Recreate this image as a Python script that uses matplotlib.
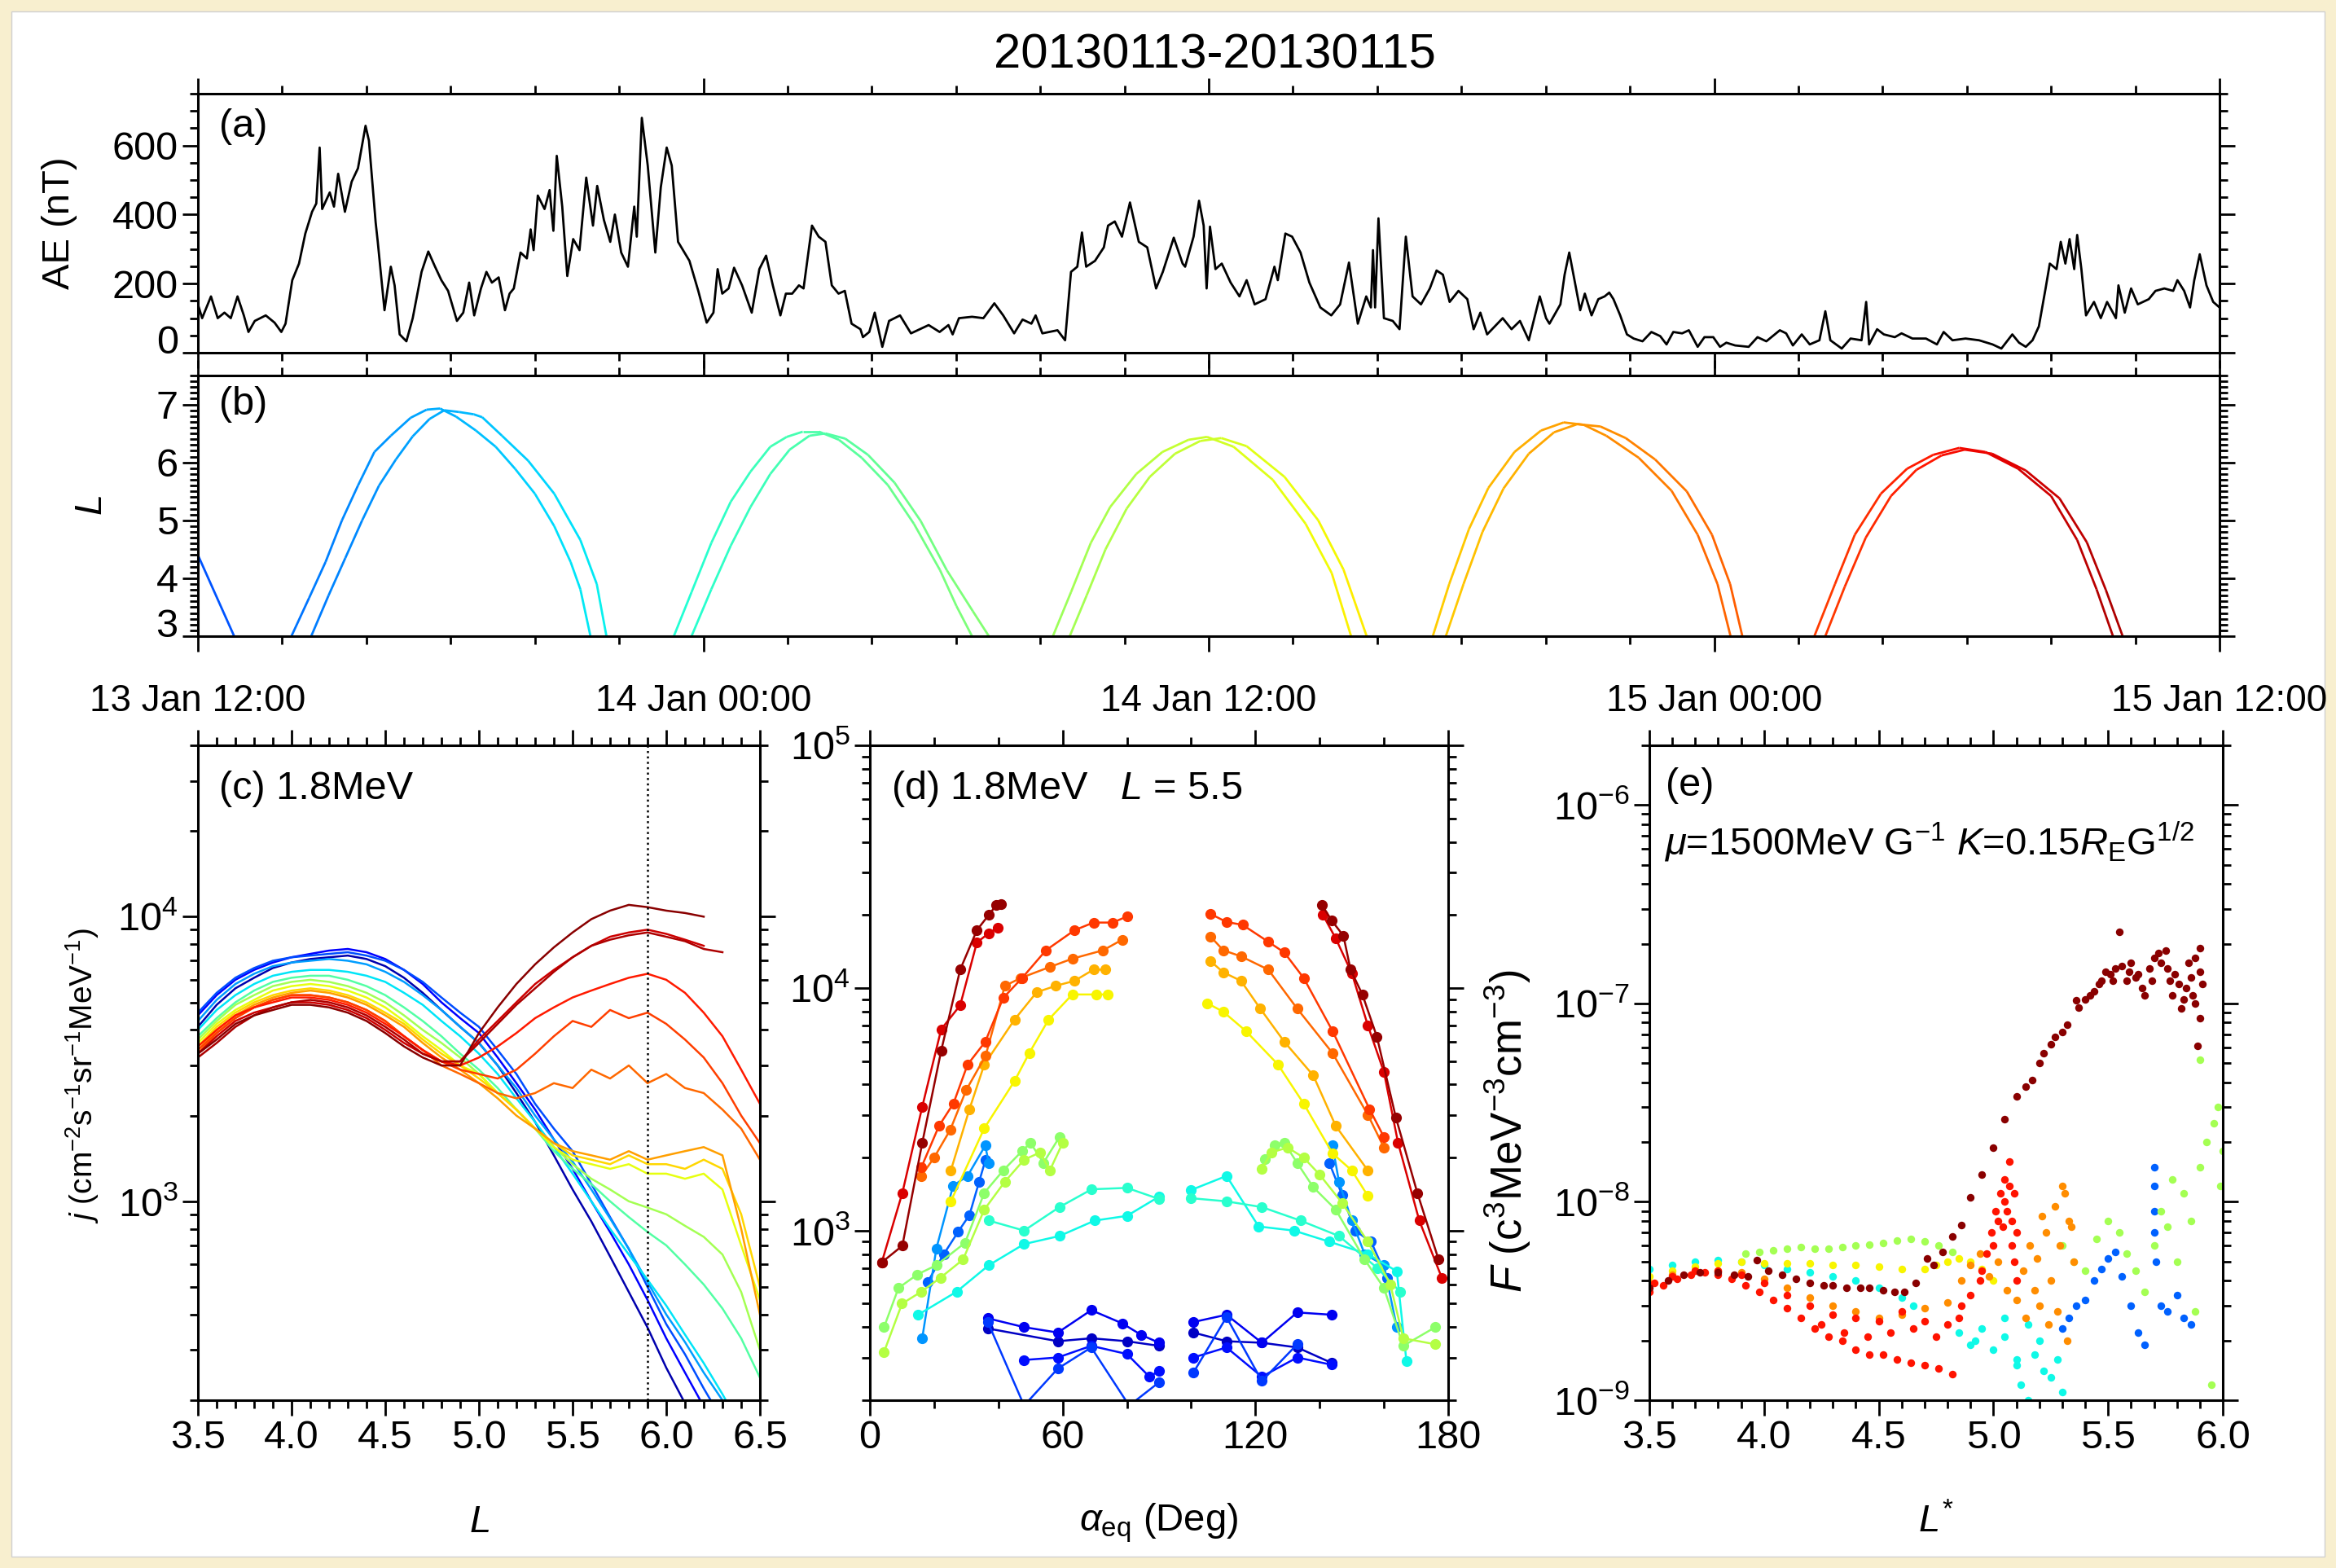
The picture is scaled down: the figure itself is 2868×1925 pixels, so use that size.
import numpy as np
import matplotlib
matplotlib.use("Agg")
from matplotlib import pyplot as plt
from matplotlib import ticker
from matplotlib.collections import LineCollection
from matplotlib.colors import Normalize
from matplotlib.patches import Rectangle
import matplotlib.transforms as mtransforms

plt.rcParams['font.family'] = ['Liberation Sans', 'DejaVu Sans']
plt.rcParams['mathtext.fontset'] = 'custom'
plt.rcParams['mathtext.rm'] = 'Liberation Sans'
plt.rcParams['mathtext.it'] = 'Liberation Sans:italic'
plt.rcParams['mathtext.bf'] = 'Liberation Sans:bold'

# ---------------- data ----------------
title = "20130113-20130115"
time_tick_hours = [0, 12, 24, 36, 48]
time_tick_labels = ["13 Jan 12:00", "14 Jan 00:00", "14 Jan 12:00", "15 Jan 00:00", "15 Jan 12:00"]

# (a) AE index, hours after 13 Jan 12:00
ae_hours = [0.0, 0.1, 0.31, 0.47, 0.63, 0.78, 0.94, 1.09, 1.2, 1.35, 1.61, 1.82, 1.98, 2.08, 2.24, 2.4, 2.55, 2.71, 2.81, 2.89,
            2.95, 3.13, 3.23, 3.33, 3.49, 3.65, 3.8, 3.98, 4.06, 4.22, 4.27, 4.43, 4.58, 4.67, 4.79, 4.95, 5.1, 5.31, 5.47, 5.63,
            5.78, 5.94, 6.15, 6.3, 6.44, 6.56, 6.72, 6.85, 6.98, 7.14, 7.29, 7.4, 7.5, 7.66, 7.81, 7.9, 7.97, 8.07, 8.23, 8.35,
            8.44, 8.52, 8.65, 8.77, 8.91, 9.06, 9.22, 9.38, 9.48, 9.64, 9.79, 9.9, 10.05, 10.21, 10.36, 10.42, 10.54, 10.68, 10.86, 10.99,
            11.13, 11.25, 11.4, 11.67, 11.88, 12.08, 12.24, 12.34, 12.45, 12.6, 12.73, 12.92, 13.15, 13.33, 13.49, 13.65, 13.83, 13.96, 14.11, 14.27,
            14.38, 14.58, 14.74, 14.9, 15.05, 15.21, 15.36, 15.52, 15.73, 15.79, 15.94, 16.07, 16.25, 16.41, 16.67, 16.93, 17.35, 17.61, 17.82, 17.92,
            18.07, 18.38, 18.65, 18.91, 19.12, 19.38, 19.58, 19.79, 19.89, 20.05, 20.41, 20.59, 20.73, 20.88, 20.99, 21.09, 21.3, 21.51, 21.61, 21.77,
            21.94, 22.13, 22.34, 22.54, 22.75, 22.91, 23.17, 23.38, 23.44, 23.64, 23.77, 23.88, 23.95, 24.03, 24.16, 24.31, 24.52, 24.73, 24.9, 25.09,
            25.35, 25.56, 25.64, 25.82, 25.98, 26.18, 26.39, 26.65, 26.91, 27.12, 27.33, 27.54, 27.74, 27.85, 27.9, 27.95, 28.03, 28.16, 28.37, 28.53,
            28.68, 28.84, 29.04, 29.25, 29.41, 29.56, 29.72, 29.93, 30.14, 30.29, 30.45, 30.61, 30.98, 31.19, 31.39, 31.6, 31.86, 32.01, 32.09, 32.35,
            32.45, 32.56, 32.66, 32.82, 32.93, 33.09, 33.25, 33.4, 33.51, 33.61, 33.77, 33.93, 34.09, 34.3, 34.51, 34.72, 34.87, 35.03, 35.24, 35.4,
            35.61, 35.77, 35.98, 36.14, 36.29, 36.5, 36.82, 37.03, 37.24, 37.56, 37.71, 37.87, 38.08, 38.27, 38.5, 38.64, 38.76, 39.03, 39.24, 39.5,
            39.61, 39.68, 39.87, 40.03, 40.29, 40.45, 40.71, 41.03, 41.29, 41.45, 41.66, 41.97, 42.29, 42.61, 42.82, 43.08, 43.24, 43.4, 43.56, 43.71,
            43.87, 43.97, 44.13, 44.23, 44.34, 44.44, 44.55, 44.62, 44.72, 44.83, 45.02, 45.18, 45.33, 45.54, 45.6, 45.75, 45.9, 46.06, 46.32, 46.48,
            46.69, 46.9, 47.0, 47.16, 47.3, 47.4, 47.53, 47.69, 47.85, 48.0]
ae_values = [140, 100, 163, 100, 116, 100, 163, 108, 60, 92, 108, 87, 60, 84, 210, 258, 345, 408, 432, 594,
             416, 464, 423, 518, 408, 495, 534, 657, 614, 377, 321, 123, 249, 195, 53, 33, 100, 234, 293, 249,
             210, 179, 92, 116, 203, 108, 186, 234, 203, 218, 123, 171, 186, 290, 273, 357, 297, 455, 416, 471,
             353, 570, 423, 222, 329, 297, 507, 368, 483, 384, 321, 400, 290, 249, 423, 336, 680, 542, 290, 479,
             594, 542, 321, 266, 179, 87, 116, 242, 171, 186, 246, 195, 116, 242, 281, 195, 108, 171, 171, 195,
             186, 368, 336, 321, 195, 171, 179, 84, 68, 45, 60, 116, 17, 92, 108, 56, 80, 60, 80, 53,
             100, 104, 100, 143, 108, 56, 96, 84, 108, 56, 65, 36, 234, 249, 348, 249, 266, 305, 368, 380,
             336, 435, 321, 305, 186, 234, 333, 258, 249, 336, 440, 368, 186, 365, 242, 258, 203, 163, 210, 140,
             155, 249, 210, 345, 336, 290, 203, 131, 108, 140, 261, 84, 163, 131, 297, 131, 389, 100, 92, 68,
             336, 163, 140, 186, 238, 226, 147, 179, 155, 68, 116, 53, 100, 68, 92, 36, 163, 100, 84, 140,
             226, 290, 226, 123, 171, 108, 155, 163, 174, 155, 108, 53, 41, 33, 60, 48, 24, 60, 56, 65,
             17, 45, 45, 17, 29, 21, 17, 45, 33, 65, 56, 21, 53, 24, 36, 120, 36, 12, 41, 36,
             147, 24, 68, 53, 45, 56, 41, 41, 24, 60, 36, 41, 36, 24, 12, 53, 29, 17, 36, 76,
             186, 258, 242, 321, 258, 329, 242, 341, 242, 108, 147, 100, 147, 100, 195, 116, 186, 140, 155, 179,
             186, 179, 210, 179, 131, 210, 285, 195, 147, 131]

# (b) L shell of the two probes, passes (hours, L)
orbit0_t = [0.0, 0.86]
orbit0_L = [4.4, 3.0]
orbit1a_t = [2.22, 2.64, 3.03, 3.42, 3.8, 4.19, 4.58, 5.05, 5.43, 5.75, 6.13, 6.6, 7.07, 7.53, 8.0, 8.46, 8.85, 9.08, 9.32]
orbit1a_L = [3.0, 3.66, 4.28, 5.0, 5.6, 6.18, 6.46, 6.77, 6.91, 6.93, 6.79, 6.55, 6.27, 5.89, 5.46, 4.9, 4.28, 3.81, 3.0]
orbit1b_t = [2.69, 3.1, 3.5, 3.9, 4.3, 4.7, 5.1, 5.5, 5.85, 6.2, 6.55, 6.75, 7.22, 7.84, 8.46, 9.08, 9.47, 9.7]
orbit1b_L = [3.0, 3.7, 4.35, 5.0, 5.6, 6.05, 6.45, 6.75, 6.9, 6.87, 6.83, 6.78, 6.46, 6.03, 5.46, 4.66, 3.9, 3.0]
orbit2a_t = [11.3, 11.72, 12.19, 12.65, 13.12, 13.59, 13.98, 14.36, 14.75, 15.22, 15.76, 16.38, 17.0, 17.62, 18.01, 18.38]
orbit2a_L = [3.0, 3.76, 4.61, 5.32, 5.84, 6.27, 6.44, 6.53, 6.53, 6.39, 6.08, 5.61, 4.94, 4.14, 3.52, 3.0]
orbit2b_t = [11.72, 12.19, 12.65, 13.12, 13.59, 14.05, 14.52, 14.9, 15.37, 15.91, 16.54, 17.16, 17.78, 18.4, 18.78]
orbit2b_L = [3.0, 3.81, 4.56, 5.23, 5.8, 6.22, 6.46, 6.5, 6.41, 6.13, 5.65, 4.99, 4.14, 3.43, 3.0]
orbit3a_t = [20.3, 20.73, 21.2, 21.66, 22.28, 22.9, 23.52, 23.96, 24.59, 25.52, 26.3, 26.92, 27.38]
orbit3a_L = [3.0, 3.76, 4.61, 5.23, 5.8, 6.18, 6.39, 6.44, 6.27, 5.7, 4.94, 4.09, 3.0]
orbit3b_t = [20.7, 21.1, 21.55, 22.05, 22.6, 23.2, 23.8, 24.3, 24.9, 25.8, 26.6, 27.2, 27.75]
orbit3b_L = [3.0, 3.7, 4.5, 5.2, 5.75, 6.15, 6.37, 6.42, 6.28, 5.75, 5.0, 4.15, 3.0]
orbit4a_t = [29.32, 29.71, 30.18, 30.64, 31.26, 31.89, 32.43, 32.9, 33.44, 34.21, 34.99, 35.61, 36.08, 36.39]
orbit4a_L = [3.0, 3.9, 4.85, 5.56, 6.18, 6.55, 6.69, 6.65, 6.46, 6.08, 5.51, 4.75, 3.9, 3.0]
orbit4b_t = [29.63, 30.05, 30.5, 31.0, 31.6, 32.2, 32.75, 33.3, 33.9, 34.6, 35.35, 35.95, 36.38, 36.67]
orbit4b_L = [3.0, 3.9, 4.8, 5.55, 6.15, 6.52, 6.66, 6.62, 6.42, 6.05, 5.5, 4.75, 3.9, 3.0]
orbit5a_t = [38.38, 38.87, 39.34, 39.96, 40.58, 41.2, 41.82, 42.44, 43.22, 44.0, 44.62, 45.08, 45.47]
orbit5a_L = [3.0, 3.9, 4.75, 5.46, 5.89, 6.13, 6.25, 6.18, 5.89, 5.42, 4.66, 3.81, 3.0]
orbit5b_t = [38.64, 39.1, 39.6, 40.2, 40.8, 41.4, 41.95, 42.6, 43.4, 44.2, 44.85, 45.3, 45.7]
orbit5b_L = [3.0, 3.85, 4.7, 5.42, 5.87, 6.12, 6.22, 6.15, 5.86, 5.38, 4.62, 3.8, 3.0]

# (c) 1.8 MeV flux profiles j(L)
c_L = [3.5, 3.6, 3.7, 3.8, 3.9, 4.0, 4.1, 4.2, 4.3, 4.4, 4.5, 4.6, 4.7, 4.8, 4.9, 5.0,
       5.1, 5.2, 5.3, 5.4, 5.5, 5.6, 5.7, 5.8, 5.9, 6.0, 6.1, 6.2, 6.3, 6.4, 6.5]
nan = np.nan
c_b1 = [4100, 4900, 5600, 6100, 6600, 6900, 7100, 7200, 7300, 7100, 6700, 6100, 5400, 4700, 4100, 3600, 3000, 2400, 1900, 1450, 1100, 850, 640, 480, 360, 260, 195, 150, nan, nan, nan]
c_b2 = [4500, 5300, 6000, 6500, 6900, 7200, 7400, 7600, 7700, 7500, 7100, 6500, 5800, 5000, 4400, 3900, 3200, 2600, 2100, 1650, 1300, 1000, 780, 600, 450, 330, 250, 190, 150, nan, nan]
c_b3 = [4600, 5400, 6100, 6600, 7000, 7200, 7300, 7400, 7500, 7300, 7000, 6500, 5900, 5200, 4600, 4100, 3400, 2800, 2200, 1800, 1500, 1150, 880, 680, 500, 370, 290, 220, 170, nan, nan]
c_b4 = [4300, 5100, 5800, 6300, 6700, 6900, 7000, 7100, 7000, 6800, 6400, 5900, 5300, 4700, 4100, 3600, 3000, 2500, 2000, 1650, 1380, 1100, 870, 680, 520, 400, 320, 250, 200, 160, nan]
c_b5 = [4000, 4700, 5300, 5800, 6200, 6400, 6500, 6500, 6400, 6200, 5900, 5400, 4900, 4300, 3800, 3300, 2800, 2300, 1900, 1550, 1250, 1000, 800, 650, 530, 430, 340, 270, 210, 160, nan]
c_g1 = [3800, 4400, 5000, 5500, 5900, 6100, 6200, 6200, 6000, 5700, 5300, 4800, 4300, 3800, 3300, 2900, 2500, 2100, 1800, 1500, 1300, 1150, 1000, 880, 780, 700, 600, 510, 420, 330, 240]
c_g2 = [3700, 4300, 4900, 5300, 5700, 5900, 6000, 5900, 5700, 5400, 5000, 4500, 4000, 3600, 3200, 2800, 2400, 2100, 1800, 1550, 1350, 1200, 1100, 1000, 950, 900, 820, 750, 650, 480, 300]
c_y1 = [3600, 4200, 4700, 5100, 5500, 5700, 5800, 5700, 5500, 5200, 4800, 4300, 3800, 3400, 3000, 2800, 2400, 2100, 1800, 1550, 1400, 1350, 1300, 1350, 1250, 1250, 1200, 1250, 1100, 700, 450]
c_y2 = [3500, 4100, 4600, 5000, 5300, 5500, 5600, 5500, 5300, 5000, 4600, 4200, 3700, 3300, 3000, 2700, 2400, 2100, 1800, 1600, 1450, 1400, 1350, 1450, 1350, 1350, 1300, 1400, 1300, 900, 500]
c_o1 = [3400, 4000, 4500, 4900, 5200, 5400, 5500, 5400, 5200, 4900, 4500, 4100, 3600, 3200, 2900, 2600, 2300, 2000, 1800, 1600, 1500, 1450, 1400, 1500, 1400, 1450, 1500, 1550, 1450, 800, 400]
c_o2 = [3300, 3900, 4400, 4800, 5100, 5300, 5300, 5200, 5000, 4700, 4300, 3800, 3400, 3000, 2800, 2600, 2400, 2300, 2400, 2600, 2500, 2900, 2700, 3000, 2600, 2800, 2500, 2400, 2100, 1800, 1400]
c_o3 = [3400, 3900, 4400, 4800, 5100, 5300, 5300, 5200, 5000, 4700, 4300, 3800, 3400, 3100, 2900, 2800, 2700, 2900, 3300, 3800, 4300, 4100, 4700, 4400, 4600, 4200, 3700, 3200, 2600, 2000, 1600]
c_r1 = [3500, 4000, 4500, 4800, 5000, 5200, 5200, 5100, 4900, 4600, 4200, 3800, 3400, 3100, 3000, 3200, 3500, 3900, 4400, 4800, 5200, 5500, 5800, 6100, 6300, 6000, 5400, 4600, 3800, 2900, 2200]
c_r2 = [3300, 3800, 4300, 4600, 4800, 5000, 5000, 4900, 4700, 4400, 4000, 3600, 3300, 3100, 3100, 3700, 4300, 5000, 5800, 6500, 7200, 7900, 8500, 8800, 9000, 8700, 8300, 7900, nan, nan, nan]
c_r4 = [3200, 3600, 4100, 4500, 4800, 5000, 5100, 5000, 4800, 4500, 4100, 3700, 3300, 3100, 3100, 3600, 4200, 4900, 5600, 6400, 7200, 7900, 8300, 8600, 8800, 8500, 8200, 7700, 7500, nan, nan]
c_r3 = [3300, 3700, 4200, 4500, 4700, 4900, 4900, 4800, 4600, 4300, 3900, 3500, 3200, 3000, 3000, 3900, 4800, 5800, 6800, 7800, 8800, 9800, 10500, 11000, 10800, 10500, 10300, 10000, nan, nan, nan]
c_profiles = [c_b1, c_b2, c_b3, c_b4, c_b5, c_g1, c_g2, c_y1, c_y2, c_o1, c_o2, c_o3, c_r1, c_r2, c_r4, c_r3]
c_colors = [0.04, 0.12, 0.2, 0.28, 0.35, 0.45, 0.55, 0.63, 0.68, 0.74, 0.8, 0.84, 0.88, 0.93, 0.96, 0.99]
c_mark_L = 5.9

# (d) pitch angle distributions at L=5.5: (color, left alpha, left j, right alpha, right j)
d_db2 = (0.06, [36.7, 58.5, 68.9, 80, 90], [395, 350, 360, 350, 335], [100.7, 111, 122, 133, 143.7], [380, 350, 345, 330, 285])
d_db1 = (0.1, [36.7, 48, 58.5, 68.9, 78.5, 84.4, 90], [435, 400, 380, 470, 415, 372, 345], [100.7, 111, 122, 133, 143.7], [420, 450, 345, 460, 450])
d_db3 = (0.14, [48, 58.5, 68.9, 80, 87, 90], [293, 300, 335, 310, 250, 264], [100.7, 111, 122, 133, 143.7], [300, 330, 250, 300, 280])
d_db4 = (0.18, [36.7, 48, 58.5, 68.9, 80.7, 90], [420, 190, 270, 330, 190, 237], [100.7, 111, 122, 133], [260, 440, 240, 340])
d_b2 = (0.22, [18, 23, 27.5, 31, 34, 36], [615, 800, 990, 1160, 1590, 1960], [143, 147, 151, 156, 161], [1900, 1400, 1000, 900, 640])
d_b1 = (0.27, [16.3, 20.7, 25.9, 30.4, 35.9, 37], [361, 845, 1530, 1680, 2240, 1900], [144, 146, 150, 154, 160, 164], [2240, 1590, 1100, 800, 720, 400])
d_c1 = (0.37, [15, 27, 37, 48, 59, 70, 80, 90], [450, 560, 720, 880, 950, 1100, 1150, 1380], [100, 111, 121, 132, 143, 155, 164, 167], [1470, 1680, 1040, 1000, 900, 800, 680, 290])
d_c2 = (0.4, [37, 48, 59, 69, 80, 90], [1100, 1000, 1250, 1480, 1500, 1350], [100, 111, 122, 134, 146, 158, 165], [1360, 1320, 1250, 1100, 950, 700, 560])
d_g1 = (0.52, [4.4, 8.9, 14.8, 20.7, 29.6, 35.6, 41.5, 47.4, 50, 54, 59], [400, 580, 660, 720, 890, 1430, 1770, 2130, 2300, 1900, 2430],
        [123, 126, 129, 133, 138, 145, 154, 160, 166, 176], [1970, 2240, 2300, 1900, 1510, 1220, 760, 580, 335, 400])
d_g2 = (0.57, [4.4, 10, 16, 22, 29, 35.6, 42, 48, 53, 56, 60], [316, 500, 560, 640, 760, 1220, 1590, 1960, 2100, 1770, 2300],
        [122, 125, 130, 135, 140, 147, 155, 162, 166, 176], [1800, 2100, 2200, 2000, 1700, 1300, 900, 600, 360, 340])
d_y = (0.65, [25.2, 35.6, 45, 49.6, 55.6, 63, 70.4, 74], [1320, 2640, 4130, 5390, 7400, 9400, 9400, 9400],
       [105, 110, 117, 127, 135, 144, 150, 155], [8650, 7980, 6650, 4840, 3340, 2080, 1770, 1390])
d_yo = (0.72, [25.2, 31, 35.6, 45, 51.9, 57.8, 63.7, 69.6, 73.3], [1770, 3170, 4830, 7400, 9600, 10200, 10700, 11900, 11900],
        [106, 110, 115.5, 121.5, 129, 138, 145, 155], [12900, 11600, 10700, 8220, 6000, 4360, 2700, 1770])
d_or2 = (0.8, [16, 20, 25, 30, 36, 42, 47, 56, 63, 72.6, 78.5], [1680, 2000, 2600, 3800, 5250, 10200, 11000, 12200, 13200, 14300, 15800],
         [106, 110, 115.5, 124, 133, 144, 155, 160], [16300, 14300, 13500, 11900, 8220, 5390, 3000, 2200])
d_or1 = (0.85, [16, 21.5, 26, 30.4, 35.9, 41.5, 47.4, 54.8, 63.7, 69.6, 75.6, 80], [1820, 2700, 3340, 4830, 6000, 9100, 11000, 14300, 17300, 18600, 18600, 19700],
         [106, 111, 116, 124, 129, 135, 144, 155.5, 160], [20200, 18700, 18200, 15500, 14000, 11000, 6650, 3170, 2430])
d_dr2 = (0.92, [3.7, 10.1, 16.3, 22.2, 28.1, 33.3, 37, 39.7], [740, 1430, 3240, 6760, 8480, 15400, 16800, 17700],
         [141, 145, 150, 155, 160, 164.4, 171, 178], [20000, 16000, 11500, 7000, 4500, 2300, 1100, 640])
d_dr1 = (0.98, [3.7, 10.1, 16.3, 22.2, 28.1, 33.3, 37, 39.3, 40.7], [740, 866, 2300, 5520, 11900, 17300, 20000, 21900, 22200],
         [140.7, 143.7, 147.4, 149.6, 153.3, 157.8, 163.7, 170.4, 177], [22000, 19000, 16400, 11900, 9390, 6300, 2930, 1430, 760])
d_passes = [d_db2, d_db1, d_db3, d_db4, d_b2, d_b1, d_c1, d_c2, d_g1, d_g2, d_y, d_yo, d_or2, d_or1, d_dr2, d_dr1]

# (e) phase space density, F in units of 1e-9
e_unit = 1e-9
e_cyan_L = [3.5, 3.6, 3.7, 3.8, 3.9, 4.0, 4.1, 4.2, 4.3, 4.4, 4.5, 4.6, 4.65,
            4.85, 4.9, 4.95, 5.0, 5.05, 5.1, 5.12, 5.15, 5.18, 5.2, 5.22, 5.25, 5.28, 5.3, 5.15, 5.05, 4.92, 5.25, 5.1, 5.28]
e_cyan_F = [4.6, 4.8, 5.0, 5.1, 5.0, 4.8, 4.6, 4.4, 4.2, 4.0, 3.7, 3.3, 3.0,
            2.2, 1.9, 2.3, 1.8, 2.1, 1.5, 1.2, 1.0, 1.7, 2.0, 1.4, 1.3, 1.6, 1.1, 2.4, 2.6, 2.0, 0.95, 1.6, 0.9]
e_blue_L = [5.3, 5.33, 5.36, 5.4, 5.44, 5.47, 5.5, 5.53, 5.56, 5.6, 5.63, 5.66, 5.7, 5.73, 5.76, 5.8, 5.83, 5.86, 5.7, 5.7, 5.7, 5.71]
e_blue_F = [2.3, 2.6, 3.0, 3.2, 4.0, 4.6, 5.2, 5.6, 4.2, 3.0, 2.2, 1.9, 15, 3.0, 2.8, 3.4, 2.6, 2.4, 12, 9, 7, 5]
e_green_L = [3.92, 3.98, 4.04, 4.1, 4.16, 4.22, 4.28, 4.34, 4.4, 4.46, 4.52, 4.58, 4.64, 4.7, 4.76, 4.82,
             5.3, 5.35, 5.4, 5.45, 5.5, 5.55, 5.58, 5.62, 5.66, 5.7, 5.73, 5.76, 5.8, 5.83, 5.86, 5.9, 5.93, 5.96, 5.98, 6.0, 5.88, 5.95, 5.99, 5.78, 5.9]
e_green_F = [5.5, 5.6, 5.7, 5.8, 5.9, 5.8, 5.8, 5.9, 6.0, 6.1, 6.2, 6.4, 6.5, 6.3, 6.0, 5.6,
             6.0, 5.0, 4.5, 6.5, 8.0, 7.0, 5.5, 4.5, 3.5, 6.0, 9.0, 7.5, 5.0, 11, 8.0, 15, 20, 25, 30, 18, 2.8, 1.2, 12, 13, 52]
e_yellow_L = [3.5, 3.6, 3.7, 3.8, 3.9, 4.0, 4.1, 4.2, 4.3, 4.4, 4.5, 4.6, 4.7, 4.75, 4.8, 4.85, 4.9, 4.95, 5.0]
e_yellow_F = [4.2, 4.5, 4.7, 4.9, 5.0, 4.9, 4.9, 4.9, 4.8, 4.8, 4.7, 4.6, 4.6, 4.8, 5.0, 5.2, 5.0, 4.6, 4.0]
e_orange_L = [3.5, 3.6, 3.7, 3.8, 3.9, 4.0, 4.1, 4.2, 4.3, 4.4, 4.5, 4.6, 4.7, 4.8,
              4.86, 4.9, 4.94, 4.98, 5.02, 5.06, 5.1, 5.13, 5.16, 5.19, 5.21, 5.23, 5.25, 5.27, 5.29, 5.31, 5.33, 5.35, 5.2, 5.24, 5.28, 5.32, 5.14, 5.18, 5.3, 5.34]
e_orange_F = [3.9, 4.3, 4.5, 4.5, 4.4, 4.1, 3.7, 3.3, 3.0, 2.8, 2.6, 2.7, 2.9, 3.1,
              4.0, 4.8, 5.5, 4.2, 5.0, 3.6, 3.2, 4.5, 6.0, 5.2, 8.5, 7.0, 4.0, 9.5, 6.0, 11, 8.0, 5.0, 3.0, 2.4, 2.8, 2.0, 2.6, 3.6, 12, 7.5]
e_red_L = [3.5, 3.56, 3.62, 3.68, 3.74, 3.8, 3.86, 3.92, 3.98, 4.04, 4.1, 4.16, 4.22, 4.28, 4.34, 4.4, 4.46, 4.52, 4.58, 4.64, 4.7, 4.76, 4.82,
           3.52, 3.6, 3.7, 3.8, 3.9, 4.0, 4.1, 4.2, 4.3, 4.4, 4.5, 4.6, 4.7, 4.8, 4.86, 4.9, 4.94,
           4.25, 4.35, 4.45, 4.55, 4.65, 4.75, 4.85,
           4.95, 4.97, 4.99, 5.0, 5.01, 5.02, 5.03, 5.04, 5.05, 5.05, 5.06, 5.07, 5.07, 5.08, 5.08, 5.09, 5.09, 5.1, 5.1]
e_red_F = [3.5, 3.8, 4.1, 4.3, 4.4, 4.3, 4.1, 3.8, 3.5, 3.2, 2.9, 2.6, 2.3, 2.1, 2.0, 1.8, 1.7, 1.7, 1.6, 1.55, 1.5, 1.45, 1.35,
           3.9, 4.2, 4.5, 4.5, 4.3, 3.9, 3.4, 3.0, 2.7, 2.6, 2.5, 2.8, 2.5, 2.4, 3.0, 3.4, 4.0,
           2.4, 2.2, 2.1, 2.2, 2.3, 2.1, 2.6,
           4.5, 5.5, 7.0, 6.0, 9.0, 8.0, 11, 7.5, 10, 13, 9, 12, 16, 6, 8, 5, 11, 4, 7]
e_darkred_L = [3.5, 3.58, 3.65, 3.72, 3.8, 3.87, 3.93, 3.97, 4.02, 4.08, 4.14, 4.2, 4.26, 4.3, 4.36, 4.42, 4.46,
               4.52, 4.57, 4.61, 4.66, 4.71, 4.74, 4.78, 4.82, 4.86, 4.9, 4.95, 5.0, 5.05, 5.1, 5.14, 5.17, 5.2, 5.22, 5.25, 5.27,
               5.3, 5.32, 5.36, 5.37, 5.4, 5.42, 5.44, 5.46, 5.47, 5.49, 5.51, 5.52, 5.53, 5.55, 5.56, 5.58, 5.59, 5.6, 5.62, 5.63,
               5.65, 5.66, 5.68, 5.69, 5.7, 5.72, 5.73, 5.75, 5.76, 5.77, 5.78, 5.79, 5.81, 5.82, 5.83, 5.84, 5.85, 5.86, 5.87, 5.88,
               5.88, 5.89, 5.9, 5.9, 5.9, 5.91]
e_darkred_F = [3.7, 4.0, 4.3, 4.4, 4.4, 4.3, 4.2, 5.1, 4.5, 4.3, 4.1, 3.9, 3.8, 3.8, 3.7, 3.7, 3.7,
               3.6, 3.5, 3.5, 3.9, 5.2, 4.8, 5.6, 6.7, 7.6, 10.5, 13.7, 18.7, 26, 34, 38, 41, 50, 56, 62, 68,
               72, 78, 104, 95, 105, 110, 115, 125, 130, 145, 140, 130, 150, 230, 155, 130, 145, 160, 135, 140,
               120, 110, 150, 130, 170, 180, 160, 185, 150, 130, 110, 140, 125, 94, 105, 120, 160, 135, 110, 170,
               100, 61, 84, 190, 145, 125]
e_groups = [(e_cyan_L, e_cyan_F, 0.37), (e_blue_L, e_blue_F, 0.22), (e_green_L, e_green_F, 0.55),
            (e_yellow_L, e_yellow_F, 0.65), (e_orange_L, e_orange_F, 0.76), (e_red_L, e_red_F, 0.89),
            (e_darkred_L, e_darkred_F, 0.99)]

# ---------------- figure ----------------
W, H = 2868, 1925
fig = plt.figure(figsize=(W / 100, H / 100), dpi=100, facecolor='#f8efcf')
bg = Rectangle((14 / W, 14 / H), 1 - 28 / W, 1 - 28 / H, transform=fig.transFigure,
               facecolor='white', edgecolor='#d0d0d0', lw=1, zorder=-10)
fig.add_artist(bg)

FS = 35
cmap = plt.get_cmap('jet')
time_norm = Normalize(-12, 48)


def style(ax):
    for s in ax.spines.values():
        s.set_linewidth(2.2)
    ax.tick_params(which='both', direction='out', top=True, right=True, width=2, labelsize=FS)
    ax.tick_params(which='major', length=14)
    ax.tick_params(which='minor', length=7)


def shift_first_label(ax, px):
    lab = ax.yaxis.get_major_ticks()[0].label1
    off = mtransforms.ScaledTranslation(0, px / 100, fig.dpi_scale_trans)
    lab.set_transform(lab.get_transform() + off)


# (a)
ax_a = fig.add_axes([243 / W, 1 - 433 / H, 2482 / W, 318 / H])
ax_a.plot(ae_hours, ae_values, color='black', lw=2.0)
ax_a.set_xlim(0, 48)
ax_a.set_ylim(0, 750)
ax_a.set_yticks([0, 200, 400, 600])
ax_a.yaxis.set_minor_locator(ticker.MultipleLocator(50))
ax_a.set_xticks(time_tick_hours)
ax_a.xaxis.set_minor_locator(ticker.MultipleLocator(2))
style(ax_a)
ax_a.tick_params(axis='x', labelbottom=False)
ax_a.set_ylabel('AE (nT)', fontsize=34, va='center')
ax_a.yaxis.set_label_coords(-0.0685, 0.5)
ax_a.text(0.0105, 0.874, '(a)', transform=ax_a.transAxes, fontsize=FS, va='center', ha='left')
shift_first_label(ax_a, 17)

# (b)
ax_b = fig.add_axes([243 / W, 1 - 781 / H, 2482 / W, 320 / H])
for t, L in [(orbit0_t, orbit0_L), (orbit1a_t, orbit1a_L), (orbit1b_t, orbit1b_L), (orbit2a_t, orbit2a_L),
             (orbit2b_t, orbit2b_L), (orbit3a_t, orbit3a_L), (orbit3b_t, orbit3b_L), (orbit4a_t, orbit4a_L),
             (orbit4b_t, orbit4b_L), (orbit5a_t, orbit5a_L), (orbit5b_t, orbit5b_L)]:
    pts = np.column_stack([t, L])
    segs = np.stack([pts[:-1], pts[1:]], axis=1)
    lc = LineCollection(segs, cmap=cmap, norm=time_norm, linewidths=2.0)
    lc.set_array(0.5 * (np.array(t[:-1]) + np.array(t[1:])))
    ax_b.add_collection(lc)
ax_b.set_xlim(0, 48)
ax_b.set_ylim(3, 7.5)
ax_b.set_yticks([3, 4, 5, 6, 7])
ax_b.yaxis.set_minor_locator(ticker.MultipleLocator(0.1))
ax_b.set_xticks(time_tick_hours)
ax_b.set_xticklabels(time_tick_labels)
ax_b.xaxis.set_minor_locator(ticker.MultipleLocator(2))
style(ax_b)
ax_b.tick_params(axis='x', which='major', pad=28, labelsize=33)
ax_b.set_ylabel('$L$', fontsize=34, va='center')
ax_b.yaxis.set_label_coords(-0.0524, 0.5)
ax_b.text(0.0105, 0.8875, '(b)', transform=ax_b.transAxes, fontsize=FS, va='center', ha='left')
shift_first_label(ax_b, 17)

# (c)
ax_c = fig.add_axes([243 / W, 1 - 1719 / H, 690 / W, 804 / H])
for prof, cv in zip(c_profiles, c_colors):
    ax_c.plot(c_L, prof, color=cmap(cv), lw=1.8)
ax_c.axvline(c_mark_L, color='black', ls=':', lw=1.8)
ax_c.set_yscale('log')
ax_c.set_xlim(3.5, 6.5)
ax_c.set_ylim(200, 4.0e4)
ax_c.xaxis.set_major_locator(ticker.MultipleLocator(0.5))
ax_c.xaxis.set_minor_locator(ticker.MultipleLocator(0.1))
ax_c.xaxis.set_major_formatter(ticker.FormatStrFormatter('%.1f'))
ax_c.yaxis.set_minor_formatter(ticker.NullFormatter())
style(ax_c)
ax_c.set_xlabel('$L$', fontsize=34, va='center')
ax_c.xaxis.set_label_coords(0.5, -0.187)
ax_c.set_ylabel(r'$j$ (cm$^{-2}$s$^{-1}$sr$^{-1}$MeV$^{-1}$)', fontsize=28, va='center')
ax_c.yaxis.set_label_coords(-0.205, 0.495)
ax_c.text(0.038, 0.933, '(c) 1.8MeV', transform=ax_c.transAxes, fontsize=FS, va='center', ha='left')

# (d)
ax_d = fig.add_axes([1068 / W, 1 - 1719 / H, 710 / W, 804 / H])
for cv, al, jl, ar, jr in d_passes:
    ax_d.plot(al, jl, '-o', color=cmap(cv), lw=1.8, ms=8.5)
    ax_d.plot(ar, jr, '-o', color=cmap(cv), lw=1.8, ms=8.5)
ax_d.set_yscale('log')
ax_d.set_xlim(0, 180)
ax_d.set_ylim(200, 1e5)
ax_d.xaxis.set_major_locator(ticker.MultipleLocator(60))
ax_d.xaxis.set_minor_locator(ticker.MultipleLocator(20))
ax_d.yaxis.set_minor_formatter(ticker.NullFormatter())
style(ax_d)
ax_d.set_xlabel(r'$\alpha_{\rm eq}$ (Deg)', fontsize=34, va='center')
ax_d.xaxis.set_label_coords(0.5, -0.187)
ax_d.text(0.037, 0.933, '(d) 1.8MeV   $L$ = 5.5', transform=ax_d.transAxes, fontsize=FS, va='center', ha='left')

# (e)
ax_e = fig.add_axes([2025 / W, 1 - 1719 / H, 704 / W, 804 / H])
for Ls, Fs, cv in e_groups:
    ax_e.scatter(Ls, np.array(Fs) * e_unit, s=46, color=cmap(cv), linewidths=0)
ax_e.set_yscale('log')
ax_e.set_xlim(3.5, 6.0)
ax_e.set_ylim(1e-9, 2e-6)
ax_e.xaxis.set_major_locator(ticker.MultipleLocator(0.5))
ax_e.xaxis.set_minor_locator(ticker.MultipleLocator(0.1))
ax_e.xaxis.set_major_formatter(ticker.FormatStrFormatter('%.1f'))
ax_e.yaxis.set_minor_formatter(ticker.NullFormatter())
style(ax_e)
ax_e.set_xlabel('$L^{*}$', fontsize=34, va='center')
ax_e.xaxis.set_label_coords(0.5, -0.187)
ax_e.set_ylabel(r'$F$ (c$^3$MeV$^{-3}$cm$^{-3}$)', fontsize=38, va='center')
ax_e.yaxis.set_label_coords(-0.247, 0.41)
ax_e.text(0.028, 0.939, '(e)', transform=ax_e.transAxes, fontsize=FS, va='center', ha='left')
ax_e.text(0.026, 0.853, r'$\mu$=1500MeV G$^{-1}$ $K$=0.15$R_{\rm E}$G$^{1/2}$', transform=ax_e.transAxes,
          fontsize=34, va='center', ha='left')

fig.text(1491 / W, 1 - 68 / H, title, fontsize=43, ha='center', va='center')

fig.savefig('out.png', dpi=100, facecolor=fig.get_facecolor())
